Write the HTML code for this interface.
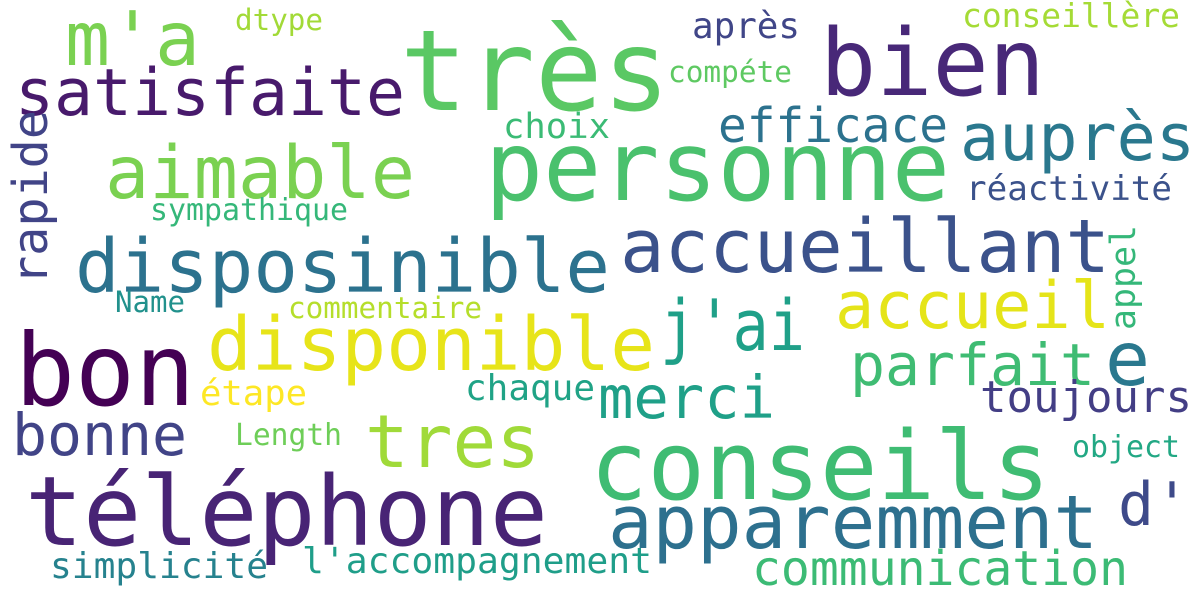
<!DOCTYPE html>
<html><head><meta charset="utf-8">
<style>
html,body{margin:0;padding:0;background:#fff;}
svg{display:block}
text{font-family:"DejaVu Sans Mono","Liberation Mono",monospace;}
</style></head>
<body>
<svg width="1200" height="600" viewBox="0 0 1200 600">
<rect width="1200" height="600" fill="#fff"/>
<g id="words"></g>
</svg>
<script>
const words = ["très","bien","m'a","satisfaite","personne","auprès","efficace","aimable","choix","compéte","après","dtype","conseillère","rapide","sympathique","réactivité","disposinible","accueillant","appel","Name","commentaire","j'ai","accueil","disponible","bon","parfait","e","merci","chaque","étape","toujours","bonne","tres","conseils","Length","object","téléphone","apparemment","d'","simplicité","l'accompagnement","communication"];
const sizes = [112,93,75,65,96,65,48,73,35,29,36,29,33,48,30,34,74,74,35,29,29,70,65,74,100,58,75,59,36,35,44,58,73,95,30,30,96,74,60,36,36,48];
const colors = ["#5ac864","#482878","#7ad151","#481a6c","#4ac16d","#2a788e","#2c728e","#7ad151","#3bbb75","#5ec962","#404688","#a2da37","#a5db36","#414487","#35b779","#3b528b","#2c728e","#3b528b","#35b779","#21918c","#b5de2b","#1fa088","#e5e419","#e7e419","#440154","#3fbc73","#2a788e","#1fa088","#20a386","#fde725","#433e85","#414487","#a0da39","#3fbc73","#6ece58","#22a884","#482475","#2d708e","#3e4a89","#26828e","#1f9e89","#3cbb75"];
const xs = [400,820,65,15,485,960,718,105,503,668,692,235,962,47,150,966,75,620,1135,115,288,660,835,207,15,850,1105,598,465,200,980,12,365,590,235,1072,25,608,1118,50,302,752];
const ys = [110,95,65,115,200,160,142,198,138,82,38,30,27,285,220,200,292,272,330,312,318,350,328,370,405,385,385,418,400,405,412,455,467,499,445,457,545,548,525,578,573,585];
const widths = [270,225,135,390,465,235,230,310,107,124,108,88,218,175,198,206,535,490,105,70,194,145,275,448,180,245,45,177,130,107,212,175,175,460,107,108,523,490,72,218,350,376];
const vertical = ["rapide","appel"];
const g = document.getElementById('words');
words.forEach((w,i)=>{
  const t = document.createElementNS('http://www.w3.org/2000/svg','text');
  t.textContent = w;
  t.setAttribute('font-size', sizes[i]);
  t.setAttribute('fill', colors[i]);
  t.setAttribute('textLength', widths[i]);
  t.setAttribute('lengthAdjust','spacingAndGlyphs');
  if (vertical.includes(w)) {
    t.setAttribute('x',0); t.setAttribute('y',0);
    t.setAttribute('transform','translate('+xs[i]+','+ys[i]+') rotate(-90)');
  } else {
    t.setAttribute('x', xs[i]); t.setAttribute('y', ys[i]);
  }
  
  
  g.appendChild(t);
});
</script>
</body></html>
